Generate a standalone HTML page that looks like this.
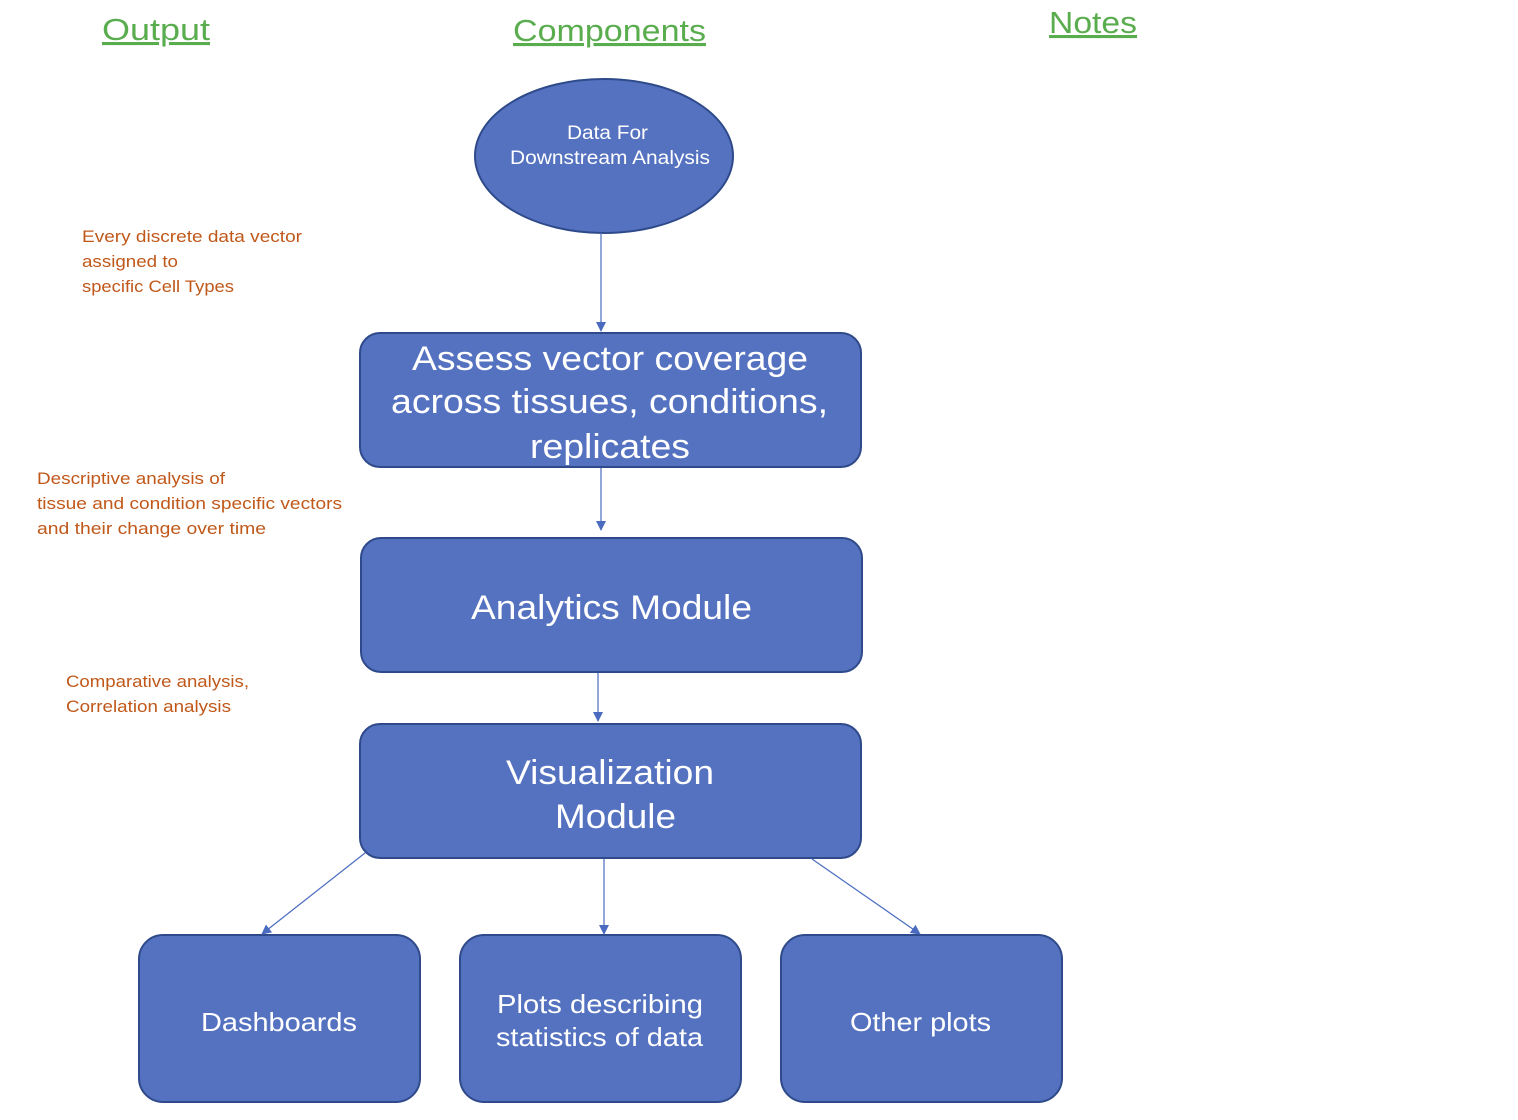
<!DOCTYPE html>
<html><head><meta charset="utf-8"><style>
html,body{margin:0;padding:0;background:#fff;}
svg{display:block;}
</style></head><body>
<svg width="1518" height="1120" viewBox="0 0 1518 1120" xmlns="http://www.w3.org/2000/svg">
<defs><marker id="a" markerWidth="10" markerHeight="10" refX="9" refY="5" orient="auto" markerUnits="userSpaceOnUse"><path d="M0,0 L10,5 L0,10 z" fill="#4A6BC0"/></marker></defs>
<g font-family="Liberation Sans, sans-serif" fill="#5AAD4E" font-size="31" text-decoration="underline" lengthAdjust="spacingAndGlyphs">
<text x="102" y="40" textLength="108" lengthAdjust="spacingAndGlyphs">Output</text>
<text x="513" y="41" textLength="193" lengthAdjust="spacingAndGlyphs">Components</text>
<text x="1049" y="33" textLength="88" lengthAdjust="spacingAndGlyphs">Notes</text>
</g>
<g fill="#5572C0" stroke="#2F4A8A" stroke-width="2">
<ellipse cx="604" cy="156" rx="129" ry="77"/>
<rect x="360" y="333" width="501" height="134" rx="20"/>
<rect x="361" y="538" width="501" height="134" rx="20"/>
<rect x="360" y="724" width="501" height="134" rx="20"/>
<rect x="139" y="935" width="281" height="167" rx="24"/>
<rect x="460" y="935" width="281" height="167" rx="24"/>
<rect x="781" y="935" width="281" height="167" rx="24"/>
</g>
<g stroke="#4A6BC0" stroke-width="1.2" marker-end="url(#a)">
<line x1="601" y1="233" x2="601" y2="331"/>
<line x1="601" y1="468" x2="601" y2="530"/>
<line x1="598" y1="673" x2="598" y2="721"/>
<line x1="365" y1="853" x2="262" y2="934"/>
<line x1="604" y1="859" x2="604" y2="934"/>
<line x1="812" y1="859" x2="920" y2="934"/>
</g>
<g font-family="Liberation Sans, sans-serif" fill="#fff">
<text x="567" y="139" font-size="19" textLength="81" lengthAdjust="spacingAndGlyphs">Data For</text>
<text x="510" y="164" font-size="19" textLength="200" lengthAdjust="spacingAndGlyphs">Downstream Analysis</text>
<text x="412" y="370" font-size="34" textLength="396" lengthAdjust="spacingAndGlyphs">Assess vector coverage</text>
<text x="391" y="413" font-size="34" textLength="437" lengthAdjust="spacingAndGlyphs">across tissues, conditions,</text>
<text x="530" y="458" font-size="34" textLength="160" lengthAdjust="spacingAndGlyphs">replicates</text>
<text x="471" y="619" font-size="34" textLength="281" lengthAdjust="spacingAndGlyphs">Analytics Module</text>
<text x="506" y="784" font-size="34" textLength="208" lengthAdjust="spacingAndGlyphs">Visualization</text>
<text x="555" y="828" font-size="34" textLength="121" lengthAdjust="spacingAndGlyphs">Module</text>
<text x="201" y="1031" font-size="26" textLength="156" lengthAdjust="spacingAndGlyphs">Dashboards</text>
<text x="497" y="1013" font-size="26" textLength="206" lengthAdjust="spacingAndGlyphs">Plots describing</text>
<text x="496" y="1046" font-size="26" textLength="207" lengthAdjust="spacingAndGlyphs">statistics of data</text>
<text x="850" y="1031" font-size="26" textLength="141" lengthAdjust="spacingAndGlyphs">Other plots</text>
</g>
<g font-family="Liberation Sans, sans-serif" fill="#C0581A" font-size="16.5">
<text x="82" y="242" textLength="220" lengthAdjust="spacingAndGlyphs">Every discrete data vector</text>
<text x="82" y="267" textLength="96" lengthAdjust="spacingAndGlyphs">assigned to</text>
<text x="82" y="292" textLength="152" lengthAdjust="spacingAndGlyphs">specific Cell Types</text>
<text x="37" y="484" textLength="188" lengthAdjust="spacingAndGlyphs">Descriptive analysis of</text>
<text x="37" y="509" textLength="305" lengthAdjust="spacingAndGlyphs">tissue and condition specific vectors</text>
<text x="37" y="534" textLength="229" lengthAdjust="spacingAndGlyphs">and their change over time</text>
<text x="66" y="687" textLength="183" lengthAdjust="spacingAndGlyphs">Comparative analysis,</text>
<text x="66" y="712" textLength="165" lengthAdjust="spacingAndGlyphs">Correlation analysis</text>
</g>
</svg>
</body></html>
